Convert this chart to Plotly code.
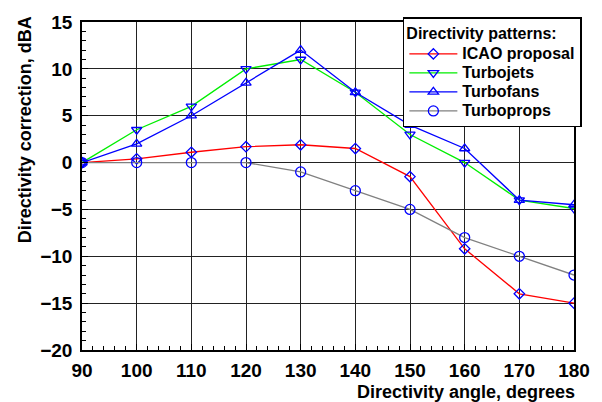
import plotly.graph_objects as go

angles = [90, 100, 110, 120, 130, 140, 150, 160, 170, 180]
icao = [0, 0.4, 1.1, 1.7, 1.9, 1.5, -1.5, -9.2, -14, -15]
turbojets = [0, 3.5, 6, 10, 11, 7.5, 3, 0, -4, -4.9]
turbofans = [0, 2, 5, 8.5, 12, 7.5, 4, 1.5, -4, -4.5]
turboprops = [0, 0, 0, 0, -1, -3, -5, -8, -10, -12]

series = [
    ("ICAO proposal", icao, "#ff0000", "diamond-open", 8),
    ("Turbojets", turbojets, "#00ee00", "triangle-down-open", 9),
    ("Turbofans", turbofans, "#0000ff", "triangle-up-open", 9),
    ("Turboprops", turboprops, "#808080", "circle-open", 10),
]

fig = go.Figure()
for name, vals, col, sym, sz in series:
    fig.add_trace(go.Scatter(
        x=angles, y=vals, name="<span style='font-size:16px'>" + name + "</span>",
        mode="lines+markers",
        line=dict(color=col, width=1.3),
        marker=dict(symbol=sym, size=sz, color="#0000ff", line=dict(color="#0000ff", width=1.3)),
    ))

FONT = "Liberation Sans, Arial, sans-serif"
axis_common = dict(
    showline=True, linecolor="black", linewidth=1.5, mirror=True,
    showgrid=True, gridcolor="#222222", gridwidth=1,
    ticks="inside", ticklen=6, tickcolor="black", tickwidth=1,
    zeroline=False,
    tickfont=dict(family=FONT, size=19, color="black", weight="bold"),
)

fig.update_xaxes(range=[90, 180], dtick=10, tick0=90,
                 minor=dict(dtick=2, ticks="inside", ticklen=4, tickcolor="black", showgrid=False),
                 ticklabelstandoff=2, **axis_common)
fig.update_yaxes(range=[-20, 15], dtick=5, tick0=0,
                 minor=dict(dtick=1, ticks="inside", ticklen=4, tickcolor="black", showgrid=False),
                 ticklabelstandoff=4, **axis_common)

fig.update_layout(
    width=602, height=402,
    margin=dict(l=82, r=25, t=19, b=52),
    paper_bgcolor="white", plot_bgcolor="white",
    font=dict(family=FONT, size=16, color="black", weight="bold"),
    legend=dict(
        x=1.016, y=1.015, xanchor="right", yanchor="top",
        bgcolor="white", bordercolor="black", borderwidth=1.5,
        font=dict(family=FONT, size=12, color="black", weight="bold"),
        title=dict(text="Directivity patterns:", font=dict(family=FONT, size=16, color="black", weight="bold")),
        itemwidth=48, tracegroupgap=0,
    ),
    annotations=[
        dict(text="Directivity angle, degrees", xref="paper", yref="paper",
             x=1, y=0, xanchor="right", yanchor="middle", xshift=3, yshift=-42,
             showarrow=False, font=dict(family=FONT, size=18, color="black", weight="bold")),
        dict(text="Directivity correction, dBA", xref="paper", yref="paper",
             x=0, y=0.67, xanchor="center", yanchor="middle", xshift=-57, textangle=-90,
             showarrow=False, font=dict(family=FONT, size=18, color="black", weight="bold")),
    ],
)

fig.write_html("out.html", config={"displayModeBar": False},
               post_script="document.body.style.margin='0';document.body.style.padding='0';"
                           "document.documentElement.style.overflow='hidden';")
